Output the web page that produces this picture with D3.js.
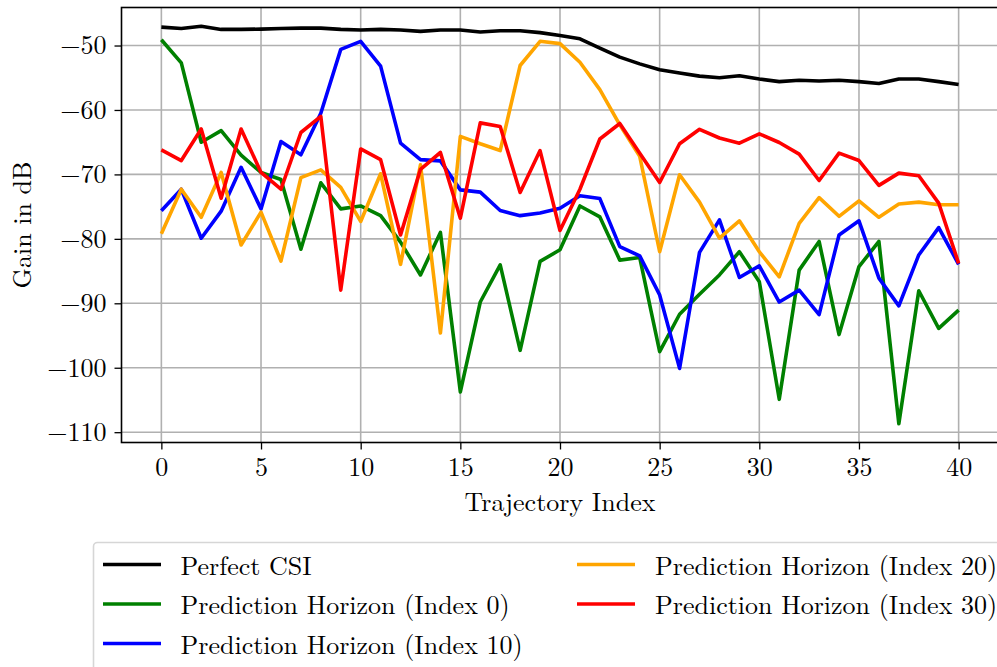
<!DOCTYPE html>
<html>
<head>
<meta charset="utf-8">
<script src="https://cdn.jsdelivr.net/npm/d3@7"></script>
<style>
  html, body { margin: 0; padding: 0; background: #fff; }
  svg { display: block; }
  text { font-family: "Latin Modern Roman", "CMU Serif", "Liberation Serif", serif; fill: #000; }
</style>
</head>
<body>
<div id="chart"></div>
<script>
// Trajectory indices 0..40
const trajectoryIndex = d3.range(0, 41);

const perfectCSI = [
  -47.15, -47.35, -47.0, -47.5, -47.5, -47.45, -47.35, -47.3, -47.3, -47.5,
  -47.6, -47.5, -47.6, -47.8, -47.6, -47.6, -47.9, -47.7, -47.7, -48.0,
  -48.45, -48.95, -50.4, -51.8, -52.85, -53.75, -54.25, -54.75, -55.0, -54.7,
  -55.2, -55.6, -55.4, -55.5, -55.4, -55.6, -55.9, -55.2, -55.2, -55.6, -56.05
];

const horizon0 = [
  -49.1, -52.7, -65.0, -63.2, -67.0, -69.7, -70.8, -81.6, -71.3, -75.35,
  -74.9, -76.4, -80.5, -85.6, -79.0, -103.75, -89.8, -84.05, -97.3, -83.5,
  -81.7, -74.9, -76.6, -83.3, -82.9, -97.5, -91.7, -88.6, -85.6, -82.0,
  -86.65, -104.9, -84.85, -80.4, -94.85, -84.3, -80.4, -108.7, -88.05, -93.9, -91.05
];

const horizon10 = [
  -75.65, -72.3, -79.9, -75.7, -68.9, -75.35, -64.9, -66.95, -60.5, -50.6,
  -49.35, -53.2, -65.15, -67.7, -67.9, -72.4, -72.75, -75.6, -76.4, -76.0,
  -75.25, -73.3, -73.75, -81.2, -82.65, -88.7, -100.1, -82.1, -77.05, -86.0,
  -84.2, -89.8, -87.95, -91.75, -79.4, -77.2, -86.1, -90.4, -82.5, -78.25, -83.95
];

const horizon20 = [
  -79.2, -72.3, -76.65, -69.7, -80.95, -75.85, -83.45, -70.5, -69.3, -72.0,
  -77.3, -69.9, -83.95, -68.5, -94.6, -64.1, -65.25, -66.3, -53.1, -49.35,
  -49.7, -52.6, -56.85, -62.3, -67.2, -82.0, -70.05, -74.3, -79.9, -77.2,
  -82.0, -85.9, -77.6, -73.6, -76.5, -74.1, -76.65, -74.6, -74.3, -74.7, -74.7
];

const horizon30 = [
  -66.2, -67.85, -62.95, -73.7, -62.95, -69.7, -72.3, -63.5, -61.0, -87.95,
  -66.05, -67.7, -79.4, -69.2, -66.6, -76.8, -62.0, -62.55, -72.8, -66.3,
  -78.7, -72.3, -64.5, -62.1, -66.7, -71.25, -65.25, -63.0, -64.35, -65.15,
  -63.7, -65.05, -66.85, -70.95, -66.7, -67.85, -71.7, -69.8, -70.2, -74.45, -83.8
];

const seriesNames = [
  "Perfect CSI",
  "Prediction Horizon (Index 0)",
  "Prediction Horizon (Index 10)",
  "Prediction Horizon (Index 20)",
  "Prediction Horizon (Index 30)"
];
const seriesColors = ["#000000", "#008000", "#0000ff", "#ffa500", "#ff0000"];
const seriesValues = [perfectCSI, horizon0, horizon10, horizon20, horizon30];

const xTicks = [0, 5, 10, 15, 20, 25, 30, 35, 40];
const yTicks = [-110, -100, -90, -80, -70, -60, -50];

const W = 997, H = 667;
const FS = 26;
const plot = { left: 121.5, right: 998.5, top: 7.5, bottom: 442.5 };

const svg = d3.select("#chart").append("svg")
  .attr("width", W).attr("height", H);

const x = d3.scaleLinear().domain([-2, 42]).range([plot.left, plot.right]);
const y = d3.scaleLinear().domain([-111.6, -44.1]).range([plot.bottom, plot.top]);

const fmt = v => (v < 0 ? "\u2212" + Math.abs(v) : String(v));

// grid
const grid = svg.append("g").attr("stroke", "#b0b0b0").attr("stroke-width", 1.6);
grid.selectAll("line.vx").data(xTicks).join("line")
  .attr("x1", d => x(d)).attr("x2", d => x(d))
  .attr("y1", plot.top).attr("y2", plot.bottom);
grid.selectAll("line.hy").data(yTicks).join("line")
  .attr("x1", plot.left).attr("x2", plot.right)
  .attr("y1", d => y(d)).attr("y2", d => y(d));

// series lines
const line = d3.line()
  .x((d, i) => x(trajectoryIndex[i]))
  .y(d => y(d));

svg.append("clipPath").attr("id", "plotclip")
  .append("rect")
  .attr("x", plot.left).attr("y", plot.top)
  .attr("width", plot.right - plot.left).attr("height", plot.bottom - plot.top);

const linesG = svg.append("g").attr("clip-path", "url(#plotclip)");
seriesValues.forEach((vals, k) => {
  linesG.append("path")
    .datum(vals)
    .attr("d", line)
    .attr("fill", "none")
    .attr("stroke", seriesColors[k])
    .attr("stroke-width", 3.6)
    .attr("stroke-linejoin", "round")
    .attr("stroke-linecap", "butt");
});

// axes
const xAxis = svg.append("g")
  .attr("transform", `translate(0,${plot.bottom})`)
  .call(d3.axisBottom(x).tickValues(xTicks).tickSize(7).tickPadding(8).tickFormat(d => d));
const yAxis = svg.append("g")
  .attr("transform", `translate(${plot.left},0)`)
  .call(d3.axisLeft(y).tickValues(yTicks).tickSize(7).tickPadding(8).tickFormat(fmt));

[xAxis, yAxis].forEach(ax => {
  ax.select(".domain").remove();
  ax.selectAll(".tick line").attr("stroke", "#000").attr("stroke-width", 1.3);
  ax.selectAll(".tick text")
    .attr("font-family", null)
    .attr("font-size", FS)
    .attr("fill", "#000");
});

// frame
svg.append("rect")
  .attr("x", plot.left).attr("y", plot.top)
  .attr("width", plot.right - plot.left).attr("height", plot.bottom - plot.top)
  .attr("fill", "none").attr("stroke", "#000").attr("stroke-width", 1.6);

// axis labels
svg.append("text")
  .attr("x", 560)
  .attr("y", 511)
  .attr("text-anchor", "middle")
  .attr("font-size", FS)
  .text("Trajectory Index");

svg.append("text")
  .attr("transform", `translate(31,${(plot.top + plot.bottom) / 2}) rotate(-90)`)
  .attr("text-anchor", "middle")
  .attr("font-size", FS)
  .text("Gain in dB");

// legend
const legend = svg.append("g");
legend.append("rect")
  .attr("x", 93.5).attr("y", 542.5)
  .attr("width", 940).attr("height", 160)
  .attr("rx", 4).attr("ry", 4)
  .attr("fill", "#fff").attr("fill-opacity", 0.8)
  .attr("stroke", "#d6d6d6").attr("stroke-width", 1.6);

const legendPos = [
  { hx: 103, tx: 180.5, cy: 564.5 },
  { hx: 103, tx: 180.5, cy: 604 },
  { hx: 103, tx: 180.5, cy: 643.5 },
  { hx: 577, tx: 655, cy: 564.5 },
  { hx: 577, tx: 655, cy: 604 }
];
seriesNames.forEach((name, k) => {
  const p = legendPos[k];
  legend.append("line")
    .attr("x1", p.hx).attr("x2", p.hx + 58)
    .attr("y1", p.cy).attr("y2", p.cy)
    .attr("stroke", seriesColors[k]).attr("stroke-width", 3.6);
  legend.append("text")
    .attr("x", p.tx).attr("y", p.cy + 10)
    .attr("font-size", FS)
    .text(name);
});
</script>
</body>
</html>
